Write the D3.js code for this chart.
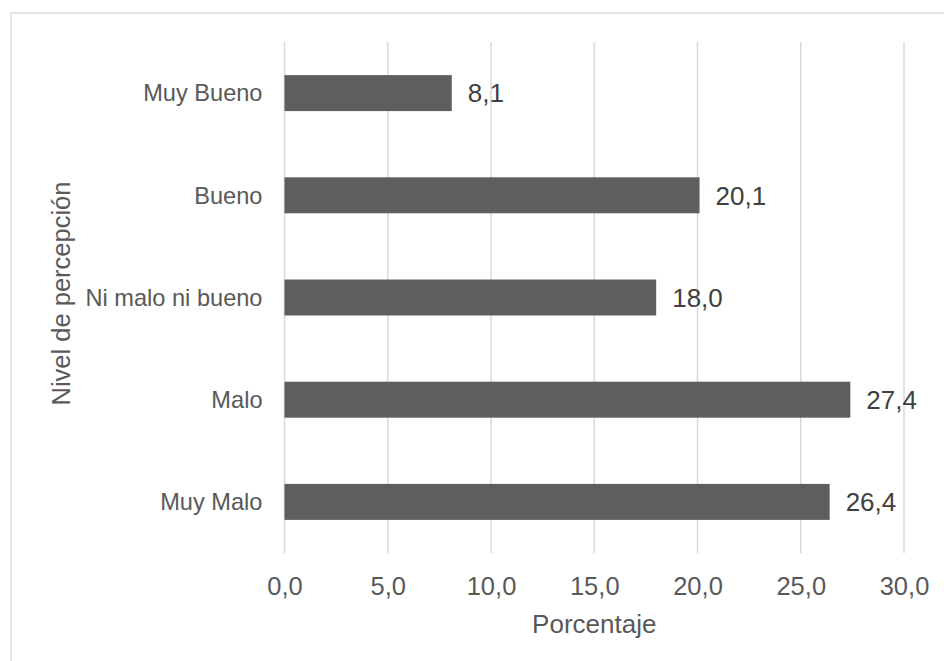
<!DOCTYPE html>
<html>
<head>
<meta charset="utf-8">
<script src="https://cdn.jsdelivr.net/npm/d3@7"></script>
<style>
  html, body { margin: 0; padding: 0; background: #fff; }
  svg { display: block; }
  text { font-family: "Liberation Sans", Arial, sans-serif; }
</style>
</head>
<body>
<svg id="chart" width="944" height="661"></svg>
<script>
const categories = ["Muy Bueno", "Bueno", "Ni malo ni bueno", "Malo", "Muy Malo"];
const values = [8.1, 20.1, 18.0, 27.4, 26.4];
const xTicks = [0, 5, 10, 15, 20, 25, 30];
const xTitle = "Porcentaje";
const yTitle = "Nivel de percepción";

const svg = d3.select("#chart");
const W = 944, H = 661;
const mLeft = 284.5, mRight = 904, mTop = 42, mBottom = 553;

svg.append("rect").attr("x", 11).attr("y", 13).attr("width", W).attr("height", H)
  .attr("fill", "#fff").attr("stroke", "#d9d9d9").attr("stroke-width", 1.5);

const x = d3.scaleLinear().domain([0, 30]).range([mLeft, mRight]);
const y = d3.scaleBand().domain(categories).range([mTop, mBottom]).paddingInner(0.648).paddingOuter(0.324);

const fmt = v => d3.format(".1f")(v).replace(".", ",");

// gridlines
svg.append("g").selectAll("line").data(xTicks).join("line")
  .attr("x1", d => x(d)).attr("x2", d => x(d))
  .attr("y1", mTop).attr("y2", mBottom)
  .attr("stroke", "#d9d9d9").attr("stroke-width", 1.5);

// x axis via d3.axisBottom
const xAxis = d3.axisBottom(x).tickValues(xTicks).tickFormat(fmt).tickSize(0).tickPadding(0);
const gx = svg.append("g").attr("transform", `translate(0,${mBottom})`).call(xAxis);
gx.select(".domain").remove();
gx.selectAll("text").attr("fill", "#595959").attr("font-size", "25.5px")
  .attr("dy", null).attr("y", 41.5);

// y axis
const yAxis = d3.axisLeft(y).tickSize(0).tickPadding(0);
const gy = svg.append("g").attr("transform", `translate(${mLeft - 22},0)`).call(yAxis);
gy.select(".domain").remove();
gy.selectAll("text").attr("fill", "#595959").attr("font-size", "23.6px").attr("dy", "0.35em");

// bars
svg.append("g").selectAll("rect").data(categories).join("rect")
  .attr("x", x(0))
  .attr("y", d => y(d))
  .attr("width", (d, i) => x(values[i]) - x(0))
  .attr("height", y.bandwidth())
  .attr("fill", "#5e5e5e");

// data labels
svg.append("g").selectAll("text").data(categories).join("text")
  .attr("x", (d, i) => x(values[i]) + 16)
  .attr("y", d => y(d) + y.bandwidth() / 2)
  .attr("dy", "0.36em")
  .attr("fill", "#404040").attr("font-size", "26px")
  .text((d, i) => fmt(values[i]));

// titles
svg.append("text").attr("x", (mLeft + mRight) / 2).attr("y", 633)
  .attr("text-anchor", "middle").attr("fill", "#595959").attr("font-size", "26px")
  .text(xTitle);

svg.append("text")
  .attr("transform", `translate(${61},${(mTop + mBottom) / 2 - 4}) rotate(-90)`)
  .attr("text-anchor", "middle").attr("dy", "0.35em").attr("fill", "#595959").attr("font-size", "25.5px")
  .text(yTitle);
</script>
</body>
</html>
